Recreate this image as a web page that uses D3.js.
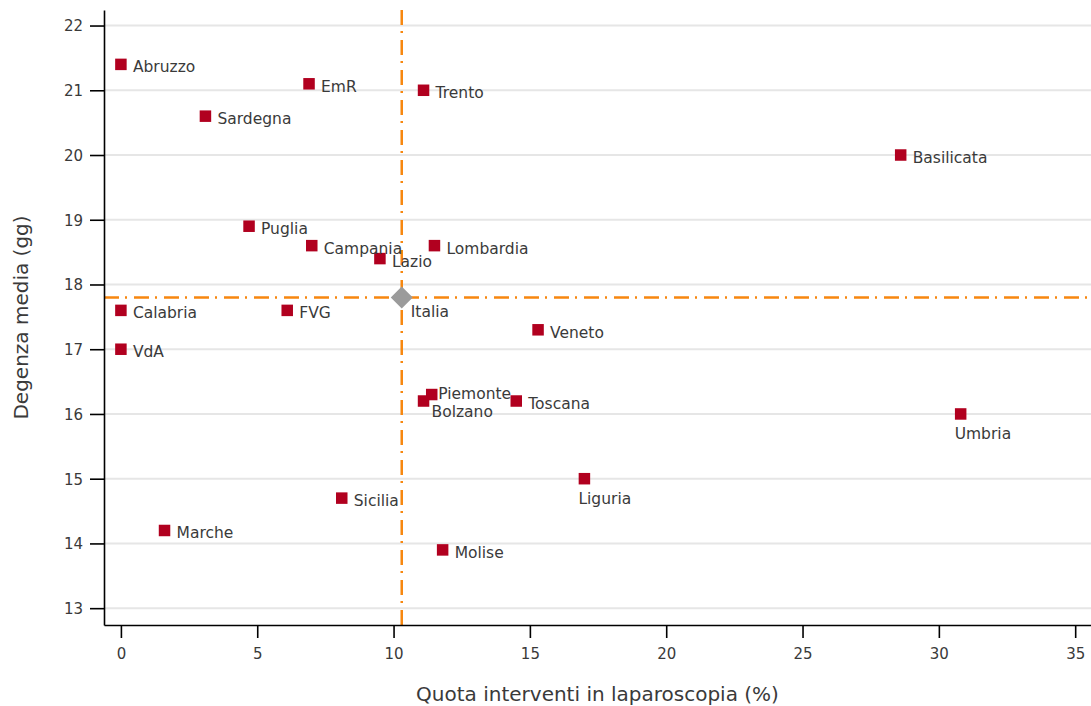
<!DOCTYPE html>
<html><head><meta charset="utf-8">
<script src="https://cdn.jsdelivr.net/npm/d3@7"></script>
<style>
html,body{margin:0;padding:0;background:#fff;}
svg{display:block;}
text{font-family:"DejaVu Sans",sans-serif;fill:#3a3a3a;}
</style></head>
<body>
<svg id="chart" width="1091" height="706"></svg>
<script>
const regions = ["Abruzzo","EmR","Trento","Sardegna","Basilicata","Puglia","Campania","Lombardia","Lazio","Calabria","FVG","VdA","Veneto","Piemonte","Bolzano","Toscana","Umbria","Liguria","Sicilia","Marche","Molise"];
const quota   = [0, 6.9, 11.1, 3.1, 28.6, 4.7, 7.0, 11.5, 9.5, 0, 6.1, 0, 15.3, 11.4, 11.1, 14.5, 30.8, 17.0, 8.1, 1.6, 11.8];
const degenza = [21.4, 21.1, 21.0, 20.6, 20.0, 18.9, 18.6, 18.6, 18.4, 17.6, 17.6, 17.0, 17.3, 16.3, 16.2, 16.2, 16.0, 15.0, 14.7, 14.2, 13.9];
// marker label clock positions (Stata style)
const labelPos = [3,3,3,3,3,3,3,3,3,3,3,3,3,2,4,3,6,6,3,3,3];
const italiaLabel = "Italia";
const italiaQuota = 10.3;
const italiaDegenza = 17.8;
const xTicks = [0,5,10,15,20,25,30,35];
const yTicks = [13,14,15,16,17,18,19,20,21,22];
const xTitle = "Quota interventi in laparoscopia (%)";
const yTitle = "Degenza media (gg)";

const svg = d3.select("#chart");
const L = 104, R = 1091, T = 10, B = 625;
const x = d3.scaleLinear().domain([-0.62, 35.58]).range([L, R]);
const y = d3.scaleLinear().domain([12.74, 22.24]).range([B, T]);

// gridlines
svg.append("g").selectAll("line").data(yTicks).join("line")
  .attr("x1", L).attr("x2", R)
  .attr("y1", d => y(d)).attr("y2", d => y(d))
  .attr("stroke", "#e6e6e6").attr("stroke-width", 2);

// reference lines
const orange = "#f7870f";
const dash = "15,6,2,7";
svg.append("line").attr("x1", x(italiaQuota)).attr("x2", x(italiaQuota))
  .attr("y1", T).attr("y2", B)
  .attr("stroke", orange).attr("stroke-width", 2.5).attr("stroke-dasharray", dash);
svg.append("line").attr("x1", L).attr("x2", R)
  .attr("y1", y(italiaDegenza)).attr("y2", y(italiaDegenza))
  .attr("stroke", orange).attr("stroke-width", 2.5).attr("stroke-dasharray", dash);

// axes
const yAxis = svg.append("g").attr("transform", `translate(${L},0)`)
  .call(d3.axisLeft(y).tickValues(yTicks).tickSize(14).tickPadding(7).tickSizeOuter(0));
const xAxis = svg.append("g").attr("transform", `translate(0,${B})`)
  .call(d3.axisBottom(x).tickValues(xTicks).tickSize(13).tickPadding(10).tickSizeOuter(0));
[yAxis, xAxis].forEach(a => {
  a.select(".domain").attr("stroke", "#000").attr("stroke-width", 1.6);
  a.selectAll(".tick line").attr("stroke", "#000").attr("stroke-width", 1.6);
  a.selectAll(".tick text").attr("font-size", 15).attr("font-family", "DejaVu Sans").attr("fill", "#3a3a3a");
});
yAxis.selectAll(".tick text").attr("dy", "0.36em");

// axis titles
svg.append("text").attr("x", (L + R) / 2).attr("y", 701)
  .attr("text-anchor", "middle").attr("font-size", 20).text(xTitle);
svg.append("text").attr("transform", `translate(27.5,${(T + B) / 2}) rotate(-90)`)
  .attr("text-anchor", "middle").attr("font-size", 20).text(yTitle);

// markers
const ms = 11.5;
const pts = regions.map((r, i) => ({name: r, q: quota[i], d: degenza[i], pos: labelPos[i]}));
svg.append("g").selectAll("rect").data(pts).join("rect")
  .attr("x", d => x(d.q) - ms / 2).attr("y", d => y(d.d) - ms / 2)
  .attr("width", ms).attr("height", ms).attr("fill", "#b1001f");

const off = {3: [12, 8], 2: [6.5, 4.5], 4: [8, 15.5], 6: [-6, 25]};
svg.append("g").selectAll("text").data(pts).join("text")
  .attr("x", d => x(d.q) + off[d.pos][0])
  .attr("y", d => y(d.d) + off[d.pos][1])
  .attr("font-size", 15.5).text(d => d.name);

// Italia diamond
const cx = x(italiaQuota), cy = y(italiaDegenza), h = 11;
svg.append("path")
  .attr("d", `M${cx},${cy - h}L${cx + h},${cy}L${cx},${cy + h}L${cx - h},${cy}Z`)
  .attr("fill", "#9b9b9b");
svg.append("text").attr("x", cx + 9).attr("y", cy + 19.5)
  .attr("font-size", 15.5).text(italiaLabel);
</script>
</body></html>
